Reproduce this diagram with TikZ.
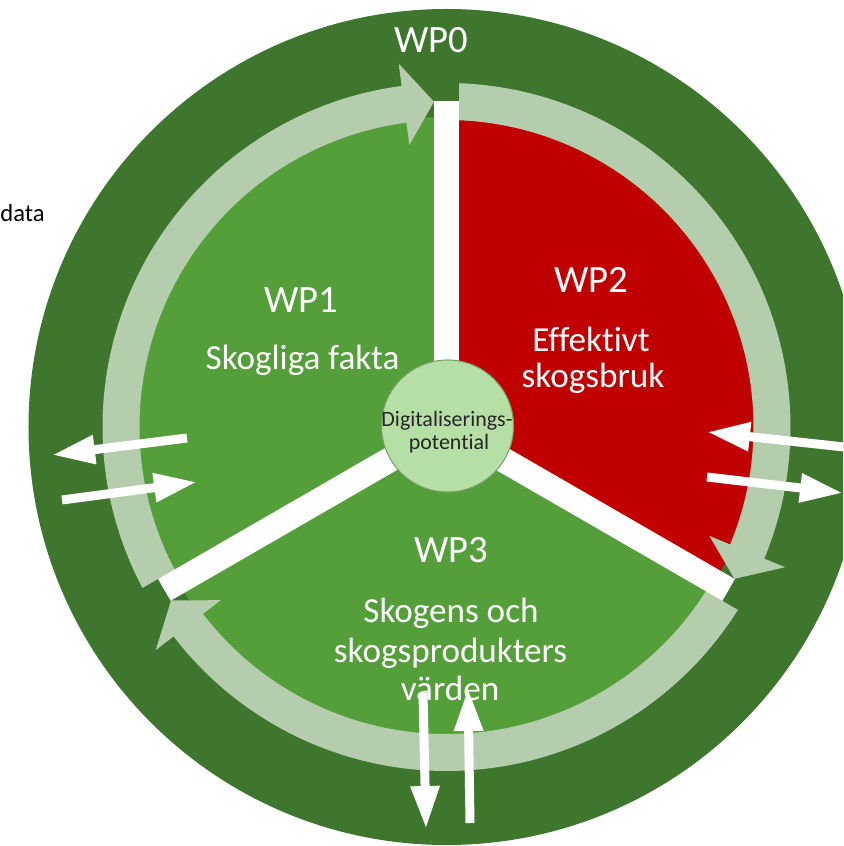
\documentclass[tikz,border=0pt]{standalone}
\usepackage{fontspec}
\setmainfont{Carlito}[Ligatures=NoCommon]
\usetikzlibrary{arrows.meta}
\definecolor{wpdark}{RGB}{63,118,46}
\definecolor{wpgreen}{RGB}{84,159,58}
\definecolor{wpred}{RGB}{192,0,0}
\definecolor{wpring}{RGB}{180,205,173}
\definecolor{wpcore}{RGB}{181,223,165}
\def\ringarrow(#1:#2){\pgfmathsetmacro\headang{#2+5.3}\fill[wpring] (#1:6.14) arc[start angle=#1, end angle=\headang, radius=6.14] -- (\headang:5.69) -- (#2:6.51) -- (\headang:7.33) -- (\headang:6.88) arc[start angle=\headang, end angle=#1, radius=6.88] -- cycle;}
\tikzset{
	wptitle/.style={text=white, font=\fontsize{22}{26}\selectfont, inner sep=0pt, anchor=base},
	wptext/.style={text=white, font=\fontsize{20}{24}\selectfont, inner sep=0pt, anchor=base},
	coretext/.style={text=black!85, font=\fontsize{12.5}{14}\selectfont, inner sep=0pt, anchor=base},
	flow/.style={draw=white, line width=0.18cm, -{Triangle[length=0.86cm, width=0.54cm]}},
	wpbar/.style={line width=0.5cm}
}

\begin{document}
\begin{tikzpicture}
	%%%%% START %%%%%
	\useasboundingbox (-8.93, -8.38) rectangle (7.93, 8.54);
	\clip (-8.93, -8.38) rectangle (7.93, 8.54);
	
	\fill[wpdark] (0, 0) circle (8.36);
	
	\fill[wpgreen] (0, 0) circle (6.2);
	\fill[wpred] (0, 0) -- (-30:6.2) arc[start angle=-30, end angle=90, radius=6.2] -- cycle;
	
	\ringarrow(90:-27.8)
	\ringarrow(-30:-147.8)
	\ringarrow(210:92.2)
	
	\foreach \a in {90, -30, 210} {
		\draw[wpbar, white] (0, 0) -- (\a:6.52);
		\draw[wpbar, wpdark] (\a:6.52) -- (\a:6.95);
	}
	
	\node[circle, fill=wpcore, draw=wpdark!70, line width=0.6pt, minimum size=2.64cm, inner sep=0pt] (core) at (0.02, 0.02) {};
	\node[coretext] (core1) at (0.01, 0.0) {Digitaliserings-};
	\node[coretext] (core2) at (0.05, -0.46) {potential};
	
	\node[wptitle] (wp0) at (-0.30, 7.48) {WP0};
	\node[wptitle] (wp1) at (-2.90, 2.28) {WP1};
	\node[wptext] (wp1a) at (-2.88, 1.14) {Skogliga fakta};
	\node[wptitle] (wp2) at (2.90, 2.68) {WP2};
	\node[wptext] (wp2a) at (2.89, 1.50) {Effektivt};
	\node[wptext] (wp2b) at (2.93, 0.78) {skogsbruk};
	\node[wptitle] (wp3) at (0.09, -2.72) {WP3};
	\node[wptext] (wp3a) at (0.09, -3.92) {Skogens och};
	\node[wptext] (wp3b) at (0.08, -4.70) {skogsprodukters};
	\node[wptext] (wp3c) at (0.07, -5.46) {värden};
	
	\node[text=black, font=\fontsize{14}{16}\selectfont, inner sep=0pt, anchor=base east] (data) at (-8.03, 4.10) {data};
	
	% in- och utflöden
	\coordinate (w1s) at (-5.19, -0.22);
	\coordinate (w1e) at (-7.89, -0.56);
	\coordinate (w2s) at (-7.69, -1.46);
	\coordinate (w2e) at (-4.99, -1.10);
	\coordinate (e1s) at (7.95, -0.40);
	\coordinate (e1e) at (5.21, -0.10);
	\coordinate (e2s) at (5.21, -1.00);
	\coordinate (e2e) at (7.93, -1.32);
	\coordinate (s1s) at (-0.47, -5.32);
	\coordinate (s1e) at (-0.41, -8.04);
	\coordinate (s2s) at (0.47, -7.92);
	\coordinate (s2e) at (0.43, -5.22);
	
	\draw[flow] (w1s) -- (w1e);
	\draw[flow] (w2s) -- (w2e);
	\draw[flow] (e1s) -- (e1e);
	\draw[flow] (e2s) -- (e2e);
	\draw[flow] (s1s) -- (s1e);
	\draw[flow] (s2s) -- (s2e);
	%%%%% END %%%%%
\end{tikzpicture}
\end{document}
